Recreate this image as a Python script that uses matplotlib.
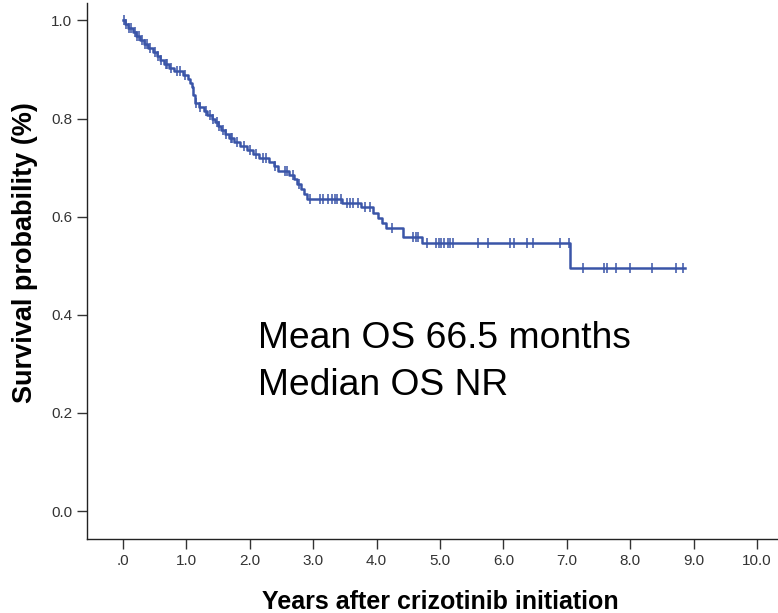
import matplotlib.pyplot as plt
import numpy as np

plt.rcParams['font.family'] = ['Liberation Sans', 'DejaVu Sans']

# Kaplan-Meier steps (years, survival)
step_times = [0.0, 0.03, 0.08, 0.15, 0.20, 0.27, 0.33, 0.40, 0.47, 0.53, 0.58,
              0.64, 0.72, 0.80, 0.95, 1.02, 1.06, 1.08, 1.10, 1.13, 1.20, 1.27,
              1.33, 1.40, 1.45, 1.50, 1.55, 1.60, 1.67, 1.75, 1.85, 1.95, 2.05,
              2.15, 2.30, 2.38, 2.45, 2.62, 2.70, 2.75, 2.80, 2.85, 2.90, 3.45,
              3.75, 3.95, 4.02, 4.08, 4.14, 4.42, 4.72, 7.05]
step_surv = [1.0, 0.992, 0.984, 0.976, 0.968, 0.960, 0.952, 0.944, 0.936, 0.928, 0.920,
             0.912, 0.904, 0.896, 0.888, 0.880, 0.872, 0.864, 0.848, 0.832, 0.824, 0.816,
             0.808, 0.800, 0.792, 0.784, 0.776, 0.768, 0.760, 0.752, 0.744, 0.736, 0.728,
             0.720, 0.712, 0.703, 0.694, 0.685, 0.676, 0.666, 0.656, 0.646, 0.636, 0.628,
             0.619, 0.608, 0.598, 0.588, 0.577, 0.558, 0.547, 0.496]
last_time = 8.87

# censored observations (years)
censor_times = [0.02, 0.05, 0.10, 0.12, 0.18, 0.22, 0.25, 0.30, 0.35, 0.38, 0.43,
                0.50, 0.55, 0.60, 0.67, 0.70, 0.75, 0.85, 0.90, 0.98, 1.15, 1.22,
                1.30, 1.37, 1.42, 1.48, 1.52, 1.58, 1.63, 1.70, 1.72, 1.80, 1.90,
                2.00, 2.10, 2.20, 2.25, 2.40, 2.55, 2.58, 2.68, 2.78,
                2.95, 3.11, 3.16, 3.24, 3.29, 3.34, 3.38, 3.43, 3.54, 3.58, 3.63,
                3.71, 3.82, 3.90, 4.25, 4.58, 4.62, 4.65, 4.80, 4.93, 4.98, 5.02,
                5.07, 5.12, 5.16, 5.20, 5.60, 5.75, 6.11, 6.16, 6.37, 6.46, 6.90,
                7.03, 7.25, 7.58, 7.64, 7.77, 8.00, 8.35, 8.73, 8.83]

xticks = np.arange(0, 11, 1)
xticklabels = ['.0'] + ['%.1f' % v for v in xticks[1:]]
yticks = [0.0, 0.2, 0.4, 0.6, 0.8, 1.0]
yticklabels = ['0.0', '0.2', '0.4', '0.6', '0.8', '1.0']

line_color = '#3a55a8'

fig = plt.figure(figsize=(7.78, 6.13), dpi=100)
ax = fig.add_axes([0.1118, 0.1207, 0.888, 0.874])

xs = step_times + [last_time]
ys = step_surv + [step_surv[-1]]
ax.step(xs, ys, where='post', color=line_color, lw=1.8)

# place censor marks on the curve
cens_y = [step_surv[np.searchsorted(step_times, t, side='right') - 1] for t in censor_times]
ax.plot(censor_times, cens_y, ls='none', marker='|', ms=7, mew=1.1, color=line_color)

ax.text(2.13, 0.333, 'Mean OS 66.5 months', fontsize=26.8, color='black')
ax.text(2.13, 0.237, 'Median OS NR', fontsize=26.8, color='black')

ax.set_xlim(-0.57, 10.33)
ax.set_ylim(-0.057, 1.035)
ax.set_xticks(xticks)
ax.set_xticklabels(xticklabels)
ax.set_yticks(yticks)
ax.set_yticklabels(yticklabels)
ax.tick_params(direction='out', length=7, width=1.0, labelsize=11, colors='#333333')

for side in ['top', 'right']:
    ax.spines[side].set_visible(False)
for side in ['left', 'bottom']:
    ax.spines[side].set_linewidth(1.0)
    ax.spines[side].set_color('#222222')

ax.set_xlabel('Years after crizotinib initiation', fontsize=18, fontweight='bold')
ax.set_ylabel('Survival probability (%)', fontsize=19.5, fontweight='bold')
ax.xaxis.set_label_coords(0.511, -0.095)
ax.yaxis.set_label_coords(-0.071, 0.535)

fig.savefig('out.png', dpi=100)
